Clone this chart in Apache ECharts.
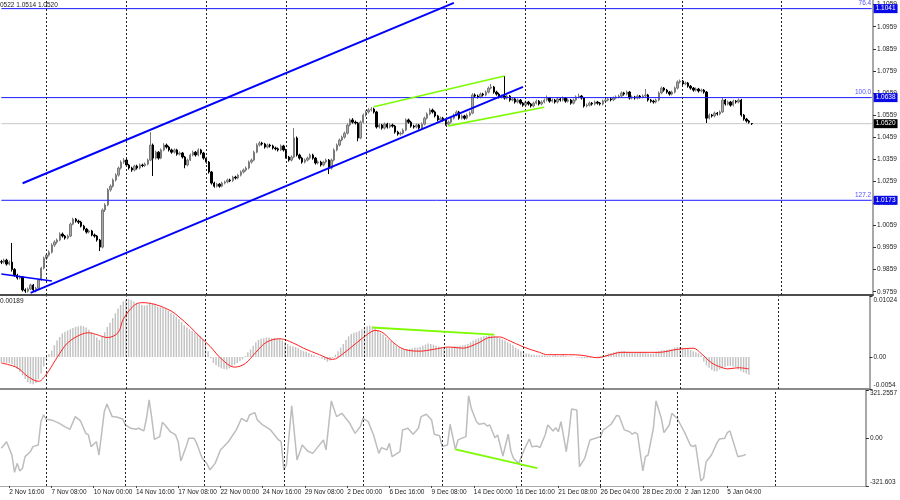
<!DOCTYPE html>
<html><head><meta charset="utf-8">
<script src="https://cdn.jsdelivr.net/npm/echarts@6/dist/echarts.min.js"></script>
<style>html,body{margin:0;padding:0;background:#fff}#c{width:900px;height:500px}</style>
</head><body><div id="c"></div>
<script>
// ---------- data ----------
const barCount = 328; // visible bar slots incl. empty future area
const tickLabels = ['2 Nov 16:00','7 Nov 08:00','10 Nov 00:00','14 Nov 16:00','17 Nov 08:00','22 Nov 00:00','24 Nov 16:00','29 Nov 08:00','2 Dec 00:00','6 Dec 16:00','9 Dec 08:00','14 Dec 00:00','16 Dec 16:00','21 Dec 08:00','26 Dec 04:00','28 Dec 20:00','2 Jan 12:00','5 Jan 04:00'];
const tickStart = 3, tickStep = 16;
const weekLines = [17,47,77,107,137,167,197,227,256,293];
const priceTicks = [0.9759,0.9859,0.9959,1.0059,1.0159,1.0259,1.0359,1.0459,1.0559,1.0659,1.0759,1.0859,1.0959,1.1059];
const macdTicks = [-0.0054,0,0.01024];
const cciTicks = [-321.603,0,321.2557];
// [open, close, low, high]
const candles = [
[0.9895,0.9893,0.9884,0.9903],[0.9893,0.9902,0.9886,0.9909],[0.9902,0.9884,0.9877,0.9908],[0.9884,0.9893,0.9878,0.9900],
[0.9893,0.9860,0.9850,0.9980],[0.9860,0.9834,0.9826,0.9866],[0.9834,0.9821,0.9814,0.9840],[0.9821,0.9826,0.9815,0.9833],
[0.9826,0.9767,0.9760,0.9830],[0.9767,0.9762,0.9754,0.9774],[0.9762,0.9771,0.9755,0.9778],[0.9771,0.9789,0.9766,0.9795],
[0.9789,0.9767,0.9760,0.9794],[0.9767,0.9775,0.9756,0.9781],[0.9775,0.9812,0.9770,0.9818],[0.9812,0.9866,0.9808,0.9872],
[0.9866,0.9911,0.9860,0.9918],[0.9911,0.9925,0.9902,0.9932],[0.9925,0.9938,0.9918,0.9946],[0.9938,0.9970,0.9932,0.9978],
[0.9970,0.9984,0.9962,0.9992],[0.9984,0.9993,0.9976,1.0000],[0.9993,1.0020,0.9988,1.0028],[1.0020,1.0011,1.0004,1.0027],
[1.0011,1.0002,0.9995,1.0016],[1.0002,1.0011,0.9996,1.0018],[1.0011,1.0065,1.0006,1.0072],[1.0065,1.0088,1.0060,1.0094],
[1.0088,1.0079,1.0072,1.0093],[1.0079,1.0074,1.0066,1.0085],[1.0074,1.0056,1.0050,1.0080],[1.0056,1.0043,1.0036,1.0062],
[1.0043,1.0029,1.0022,1.0048],[1.0029,1.0034,1.0023,1.0040],[1.0034,1.0016,1.0010,1.0039],[1.0016,1.0011,1.0004,1.0022],
[1.0011,0.9993,0.9986,1.0016],[0.9993,0.9961,0.9943,0.9998],[0.9961,1.0129,0.9955,1.0136],[1.0129,1.0152,1.0120,1.0160],
[1.0152,1.0220,1.0146,1.0228],[1.0220,1.0237,1.0212,1.0245],[1.0237,1.0265,1.0230,1.0272],[1.0265,1.0287,1.0258,1.0295],
[1.0287,1.0319,1.0280,1.0326],[1.0319,1.0346,1.0312,1.0354],[1.0346,1.0355,1.0338,1.0364],[1.0355,1.0333,1.0326,1.0360],
[1.0333,1.0319,1.0312,1.0338],[1.0319,1.0310,1.0302,1.0325],[1.0310,1.0328,1.0304,1.0334],[1.0328,1.0319,1.0312,1.0334],
[1.0319,1.0333,1.0313,1.0340],[1.0333,1.0330,1.0323,1.0339],[1.0330,1.0337,1.0324,1.0344],[1.0337,1.0355,1.0331,1.0362],
[1.0355,1.0423,1.0350,1.0482],[1.0423,1.0364,1.0283,1.0430],[1.0364,1.0391,1.0358,1.0398],[1.0391,1.0364,1.0357,1.0396],
[1.0364,1.0401,1.0359,1.0408],[1.0401,1.0423,1.0395,1.0432],[1.0423,1.0414,1.0407,1.0430],[1.0414,1.0401,1.0394,1.0420],
[1.0401,1.0391,1.0384,1.0407],[1.0391,1.0401,1.0385,1.0408],[1.0401,1.0382,1.0375,1.0406],[1.0382,1.0387,1.0376,1.0394],
[1.0387,1.0369,1.0362,1.0392],[1.0369,1.0333,1.0318,1.0374],[1.0333,1.0355,1.0327,1.0362],[1.0355,1.0378,1.0350,1.0385],
[1.0378,1.0391,1.0372,1.0398],[1.0391,1.0378,1.0371,1.0396],[1.0378,1.0401,1.0372,1.0408],[1.0401,1.0387,1.0380,1.0406],
[1.0387,1.0364,1.0357,1.0392],[1.0364,1.0346,1.0339,1.0370],[1.0346,1.0301,1.0294,1.0351],[1.0301,1.0251,1.0244,1.0306],
[1.0251,1.0237,1.0230,1.0257],[1.0237,1.0246,1.0231,1.0252],[1.0246,1.0237,1.0230,1.0251],[1.0237,1.0251,1.0232,1.0257],
[1.0251,1.0256,1.0245,1.0262],[1.0256,1.0265,1.0250,1.0271],[1.0265,1.0262,1.0255,1.0271],[1.0262,1.0278,1.0256,1.0284],
[1.0278,1.0274,1.0267,1.0284],[1.0274,1.0287,1.0268,1.0293],[1.0287,1.0301,1.0281,1.0308],[1.0301,1.0310,1.0295,1.0317],
[1.0310,1.0319,1.0303,1.0326],[1.0319,1.0346,1.0313,1.0353],[1.0346,1.0355,1.0339,1.0362],[1.0355,1.0391,1.0350,1.0398],
[1.0391,1.0423,1.0386,1.0431],[1.0423,1.0432,1.0416,1.0440],[1.0432,1.0428,1.0421,1.0438],[1.0428,1.0414,1.0407,1.0433],
[1.0414,1.0423,1.0408,1.0430],[1.0423,1.0419,1.0412,1.0429],[1.0419,1.0410,1.0403,1.0425],[1.0410,1.0406,1.0399,1.0416],
[1.0406,1.0401,1.0394,1.0412],[1.0401,1.0419,1.0396,1.0426],[1.0419,1.0401,1.0394,1.0424],[1.0401,1.0369,1.0362,1.0406],
[1.0369,1.0355,1.0348,1.0374],[1.0355,1.0369,1.0349,1.0376],[1.0369,1.0455,1.0364,1.0500],[1.0455,1.0378,1.0371,1.0462],
[1.0378,1.0364,1.0357,1.0384],[1.0364,1.0346,1.0339,1.0370],[1.0346,1.0355,1.0340,1.0362],[1.0355,1.0364,1.0349,1.0371],
[1.0364,1.0378,1.0358,1.0385],[1.0378,1.0364,1.0357,1.0384],[1.0364,1.0342,1.0335,1.0369],[1.0342,1.0346,1.0336,1.0353],
[1.0346,1.0333,1.0326,1.0352],[1.0333,1.0346,1.0327,1.0352],[1.0346,1.0355,1.0340,1.0362],[1.0355,1.0319,1.0292,1.0360],
[1.0319,1.0355,1.0312,1.0362],[1.0355,1.0401,1.0349,1.0408],[1.0401,1.0423,1.0395,1.0430],[1.0423,1.0446,1.0417,1.0453],
[1.0446,1.0459,1.0440,1.0466],[1.0459,1.0477,1.0452,1.0484],[1.0477,1.0514,1.0471,1.0521],[1.0514,1.0537,1.0508,1.0544],
[1.0537,1.0527,1.0520,1.0545],[1.0527,1.0523,1.0516,1.0534],[1.0523,1.0455,1.0440,1.0528],[1.0455,1.0527,1.0450,1.0534],
[1.0527,1.0559,1.0521,1.0566],[1.0559,1.0573,1.0552,1.0580],[1.0573,1.0582,1.0566,1.0590],[1.0582,1.0586,1.0575,1.0595],
[1.0586,1.0573,1.0566,1.0592],[1.0573,1.0505,1.0498,1.0578],[1.0505,1.0514,1.0498,1.0521],[1.0514,1.0500,1.0493,1.0519],
[1.0500,1.0518,1.0494,1.0525],[1.0518,1.0505,1.0498,1.0524],[1.0505,1.0514,1.0499,1.0521],[1.0514,1.0509,1.0502,1.0520],
[1.0509,1.0482,1.0475,1.0514],[1.0482,1.0473,1.0466,1.0488],[1.0473,1.0477,1.0466,1.0484],[1.0477,1.0491,1.0471,1.0498],
[1.0491,1.0537,1.0486,1.0544],[1.0537,1.0527,1.0520,1.0543],[1.0527,1.0509,1.0502,1.0533],[1.0509,1.0505,1.0498,1.0515],
[1.0505,1.0514,1.0499,1.0521],[1.0514,1.0500,1.0493,1.0519],[1.0500,1.0518,1.0494,1.0525],[1.0518,1.0545,1.0512,1.0552],
[1.0545,1.0564,1.0539,1.0571],[1.0564,1.0582,1.0558,1.0590],[1.0582,1.0573,1.0566,1.0588],[1.0573,1.0555,1.0548,1.0579],
[1.0555,1.0537,1.0530,1.0560],[1.0537,1.0545,1.0531,1.0552],[1.0545,1.0537,1.0530,1.0551],[1.0537,1.0518,1.0511,1.0542],
[1.0518,1.0527,1.0512,1.0534],[1.0527,1.0545,1.0521,1.0552],[1.0545,1.0559,1.0539,1.0566],[1.0559,1.0573,1.0553,1.0580],
[1.0573,1.0545,1.0538,1.0578],[1.0545,1.0555,1.0539,1.0562],[1.0555,1.0545,1.0538,1.0560],[1.0545,1.0559,1.0539,1.0566],
[1.0559,1.0568,1.0553,1.0575],[1.0568,1.0650,1.0563,1.0658],[1.0650,1.0645,1.0638,1.0657],[1.0645,1.0641,1.0634,1.0652],
[1.0641,1.0654,1.0635,1.0661],[1.0654,1.0650,1.0643,1.0660],[1.0650,1.0663,1.0644,1.0670],[1.0663,1.0681,1.0657,1.0688],
[1.0681,1.0686,1.0675,1.0700],[1.0686,1.0663,1.0656,1.0691],[1.0663,1.0654,1.0647,1.0669],[1.0654,1.0641,1.0634,1.0660],
[1.0641,1.0645,1.0635,1.0652],[1.0645,1.0636,1.0629,1.0736],[1.0636,1.0645,1.0630,1.0652],[1.0645,1.0627,1.0620,1.0650],
[1.0627,1.0632,1.0621,1.0639],[1.0632,1.0618,1.0611,1.0637],[1.0618,1.0627,1.0612,1.0634],[1.0627,1.0613,1.0606,1.0632],
[1.0613,1.0604,1.0597,1.0618],[1.0604,1.0618,1.0598,1.0625],[1.0618,1.0609,1.0602,1.0623],[1.0609,1.0600,1.0593,1.0614],
[1.0600,1.0613,1.0594,1.0620],[1.0613,1.0622,1.0607,1.0629],[1.0622,1.0609,1.0602,1.0627],[1.0609,1.0618,1.0603,1.0625],
[1.0618,1.0627,1.0612,1.0634],[1.0627,1.0636,1.0621,1.0648],[1.0636,1.0622,1.0615,1.0641],[1.0622,1.0627,1.0616,1.0634],
[1.0627,1.0618,1.0611,1.0632],[1.0618,1.0632,1.0612,1.0639],[1.0632,1.0627,1.0620,1.0637],[1.0627,1.0636,1.0621,1.0643],
[1.0636,1.0622,1.0615,1.0641],[1.0622,1.0627,1.0616,1.0634],[1.0627,1.0613,1.0606,1.0632],[1.0613,1.0627,1.0607,1.0634],
[1.0627,1.0641,1.0621,1.0648],[1.0641,1.0645,1.0635,1.0656],[1.0645,1.0636,1.0629,1.0650],[1.0636,1.0600,1.0593,1.0641],
[1.0600,1.0604,1.0594,1.0611],[1.0604,1.0613,1.0598,1.0620],[1.0613,1.0609,1.0602,1.0618],[1.0609,1.0618,1.0603,1.0625],
[1.0618,1.0613,1.0606,1.0623],[1.0613,1.0609,1.0602,1.0618],[1.0609,1.0622,1.0603,1.0629],[1.0622,1.0627,1.0616,1.0634],
[1.0627,1.0632,1.0621,1.0639],[1.0632,1.0628,1.0621,1.0638],[1.0628,1.0636,1.0622,1.0643],[1.0636,1.0641,1.0630,1.0648],
[1.0641,1.0645,1.0635,1.0652],[1.0645,1.0659,1.0639,1.0666],[1.0659,1.0654,1.0647,1.0664],[1.0654,1.0663,1.0648,1.0670],
[1.0663,1.0636,1.0629,1.0668],[1.0636,1.0641,1.0630,1.0648],[1.0641,1.0636,1.0629,1.0646],[1.0636,1.0645,1.0630,1.0652],
[1.0645,1.0641,1.0634,1.0650],[1.0641,1.0645,1.0635,1.0652],[1.0645,1.0650,1.0639,1.0677],[1.0650,1.0627,1.0620,1.0655],
[1.0627,1.0622,1.0615,1.0632],[1.0622,1.0618,1.0611,1.0628],[1.0618,1.0627,1.0612,1.0634],[1.0627,1.0659,1.0621,1.0666],
[1.0659,1.0681,1.0653,1.0688],[1.0681,1.0672,1.0665,1.0686],[1.0672,1.0663,1.0656,1.0677],[1.0663,1.0654,1.0647,1.0668],
[1.0654,1.0663,1.0648,1.0670],[1.0663,1.0681,1.0657,1.0688],[1.0681,1.0709,1.0675,1.0716],[1.0709,1.0713,1.0702,1.0720],
[1.0713,1.0700,1.0693,1.0718],[1.0700,1.0704,1.0694,1.0711],[1.0704,1.0690,1.0683,1.0709],[1.0690,1.0681,1.0674,1.0695],
[1.0681,1.0672,1.0665,1.0686],[1.0672,1.0677,1.0666,1.0684],[1.0677,1.0668,1.0661,1.0682],[1.0668,1.0672,1.0662,1.0679],
[1.0672,1.0663,1.0656,1.0677],[1.0663,1.0545,1.0523,1.0668],[1.0545,1.0559,1.0539,1.0566],[1.0559,1.0555,1.0548,1.0564],
[1.0555,1.0568,1.0549,1.0575],[1.0568,1.0564,1.0557,1.0573],[1.0564,1.0573,1.0558,1.0580],[1.0573,1.0627,1.0568,1.0636],
[1.0627,1.0609,1.0602,1.0632],[1.0609,1.0618,1.0603,1.0625],[1.0618,1.0604,1.0597,1.0623],[1.0604,1.0622,1.0598,1.0629],
[1.0622,1.0618,1.0611,1.0627],[1.0618,1.0627,1.0612,1.0634],[1.0627,1.0559,1.0552,1.0632],[1.0559,1.0541,1.0534,1.0564],
[1.0541,1.0532,1.0525,1.0546],[1.0532,1.0527,1.0520,1.0537],[1.0521,1.0520,1.0514,1.0522]
];
const macdHist = [
-0.0009,-0.0009,-0.0010,-0.0010,-0.0012,
-0.0016,-0.0020,-0.0025,-0.0031,-0.0037,-0.0042,
-0.0045,-0.0046,-0.0044,-0.0038,-0.0028,-0.0016,-0.0005,
0.0005,0.0011,0.0020,0.0028,0.0034,0.0040,0.0043,0.0045,0.0047,0.0049,0.0051,0.0052,0.0053,
0.0052,0.0050,0.0046,0.0042,0.0038,0.0033,0.0029,
0.0034,0.0042,0.0051,0.0058,0.0066,0.0074,0.0082,0.0088,0.0094,0.0097,0.0098,
0.0096,0.0094,0.0092,0.0090,0.0088,0.0087,0.0088,
0.0092,0.0090,0.0088,0.0085,0.0084,0.0083,0.0081,0.0078,0.0075,0.0072,0.0068,0.0064,
0.0059,0.0054,0.0050,0.0047,0.0044,0.0041,0.0038,0.0035,0.0030,0.0022,0.0010,-0.0002,
-0.0010,-0.0014,-0.0017,-0.0019,-0.0020,-0.0021,-0.0019,-0.0016,-0.0013,-0.0010,-0.0007,-0.0004,
0.0002,0.0008,0.0013,0.0019,0.0025,0.0029,0.0031,0.0032,0.0033,0.0033,0.0032,0.0032,0.0031,0.0031,
0.0028,0.0025,0.0022,0.0019,0.0018,0.0017,0.0015,0.0012,0.0010,0.0009,0.0007,0.0005,0.0003,0.0001,
-0.0001,-0.0003,-0.0005,-0.0008,-0.0006,-0.0002,
0.0004,0.0010,0.0016,0.0022,0.0029,0.0035,0.0039,0.0041,0.0042,0.0044,0.0047,0.0050,0.0052,0.0053,0.0052,
0.0049,0.0045,0.0041,0.0038,0.0034,0.0030,0.0027,0.0023,0.0019,0.0016,0.0014,0.0013,0.0013,
0.0014,0.0015,0.0016,0.0016,0.0017,0.0019,0.0021,0.0023,0.0022,0.0021,0.0019,0.0018,0.0017,0.0016,0.0016,
0.0016,0.0017,0.0018,0.0018,0.0019,0.0020,0.0021,0.0022,
0.0025,0.0028,0.0030,0.0032,0.0034,0.0035,0.0036,0.0037,0.0037,0.0036,0.0034,0.0032,0.0030,0.0028,
0.0025,0.0023,0.0020,0.0016,0.0013,0.0010,0.0008,0.0006,0.0005,0.0004,0.0004,0.0003,0.0003,0.0003,0.0003,
0.0002,0.0002,0.0002,0.0003,0.0002,0.0002,0.0003,0.0002,0.0001,0.0001,0.0000,-0.0001,-0.0001,
-0.0002,-0.0002,-0.0002,-0.0001,-0.0001,0.0000,0.0001,0.0002,0.0003,
0.0004,0.0006,0.0007,0.0008,0.0009,0.0010,0.0010,0.0010,0.0009,0.0008,0.0008,0.0007,0.0007,0.0008,0.0008,0.0007,0.0006,0.0006,0.0006,
0.0008,0.0010,0.0011,0.0012,0.0012,0.0013,0.0014,0.0016,0.0017,0.0017,0.0016,0.0015,0.0014,0.0012,0.0010,0.0008,0.0006,0.0003,
-0.0008,-0.0014,-0.0018,-0.0022,-0.0024,-0.0024,-0.0021,-0.0019,-0.0017,-0.0015,-0.0015,-0.0016,-0.0017,-0.0021,-0.0024,-0.0026,-0.0028,-0.0030
];
const macdSignal = [[0,-0.0010],[6,-0.0018],[10,-0.0033],[14,-0.0041],[17,-0.0029],[21,-0.0001],[25,0.0024],[30,0.0038],[33,0.0041],[36,0.0038],[40,0.0033],[44,0.0041],[46,0.0064],[50,0.0087],[53,0.0092],[58,0.0089],[64,0.0078],[67,0.0068],[71,0.0052],[75,0.0034],[79,0.0017],[83,-0.0003],[88,-0.0017],[92,-0.0011],[96,0.0008],[100,0.0025],[105,0.0031],[110,0.0024],[114,0.0015],[120,0.0004],[125,-0.0004],[129,0.0006],[134,0.0024],[138,0.0038],[141,0.0045],[144,0.0041],[148,0.0024],[152,0.0013],[158,0.0010],[163,0.0013],[169,0.0017],[174,0.0015],[180,0.0024],[184,0.0033],[188,0.0034],[191,0.0029],[197,0.0017],[203,0.0008],[206,0.0004],[214,0.0004],[219,0.0003],[225,-0.0001],[229,0.0003],[234,0.0008],[242,0.0008],[248,0.0008],[255,0.0013],[261,0.0015],[264,0.0006],[268,-0.0010],[272,-0.0018],[274,-0.0020],[278,-0.0018],[282,-0.0020]];
const cciLine = [[0,-69],[2,-25],[4,-114],[5,-230],[6,-170],[7,-221],[8,-203],[9,-125],[11,-92],[12,-58],[14,-47],[15,109],[16,154],[17,125],[19,121],[22,98],[24,76],[26,58],[28,143],[30,114],[32,31],[33,20],[34,-58],[36,-25],[37,-114],[39,176],[40,228],[42,143],[44,139],[46,127],[47,87],[49,65],[51,58],[52,65],[54,47],[55,132],[56,255],[57,132],[58,-9],[60,9],[61,105],[62,87],[64,42],[66,20],[67,-25],[68,-154],[70,-58],[71,-2],[73,-2],[74,-36],[76,-132],[77,-154],[78,-176],[79,-214],[81,-170],[83,-80],[86,-25],[89,54],[91,132],[93,109],[94,154],[96,170],[97,121],[99,87],[102,54],[105,-13],[106,-25],[107,-214],[108,-181],[110,216],[112,-147],[114,-47],[116,-87],[118,-103],[120,-58],[122,-13],[123,-80],[125,248],[127,143],[129,165],[132,98],[134,31],[136,76],[137,132],[139,109],[141,20],[143,-103],[144,-65],[146,-80],[147,-36],[148,-125],[151,-92],[152,54],[154,65],[156,25],[158,65],[159,143],[161,159],[163,121],[164,25],[166,15],[167,-58],[169,-47],[170,92],[172,-76],[173,-13],[175,2],[176,9],[177,283],[178,199],[180,109],[181,92],[183,98],[184,80],[185,87],[187,2],[188,20],[190,-121],[192,25],[193,-87],[194,-136],[196,-170],[198,-80],[200,-7],[201,-58],[203,-54],[204,-65],[206,20],[207,87],[209,47],[210,69],[211,42],[212,109],[214,-92],[215,31],[216,194],[218,188],[219,-192],[221,-136],[223,-13],[225,-2],[227,9],[228,54],[229,65],[231,92],[233,150],[234,147],[236,54],[238,42],[239,25],[240,38],[241,25],[243,-221],[244,-125],[245,-114],[247,65],[248,248],[250,132],[251,36],[253,87],[254,165],[256,132],[258,65],[259,31],[261,-47],[262,-58],[263,-47],[265,-288],[266,-270],[267,-159],[269,-114],[271,-36],[272,-7],[274,-2],[275,36],[276,47],[279,-125],[281,-118],[282,-109]];
// drawn objects (bar index, value)
const channelUpper = [[8,1.0250],[170,1.1067]];
const channelLower = [[11,0.9754],[196,1.0687]];
const shortLine = [[0,0.9839],[19,0.9808]];
const greenTop = [[140,1.0597],[189,1.0736]];
const greenBottom = [[168,1.0510],[204,1.0594]];
const greenMacd = [[140,0.0050],[186,0.0038]];
const greenCci = [[172,-76],[203,-202]];
const fibLevels = [{v:1.1041,name:'76.4'},{v:1.0638,name:'100.0'},{v:1.0173,name:'127.2'}];
const lastPrice = 1.0520;
const headerText = '0522 1.0514 1.0520';
const macdHeader = '0.00189';

// ---------- chart ----------
const categories = Array.from({length: barCount}, (_, i) => String(i));
const FONT = 'Liberation Sans';
const FS = 6.5;
const blue = '#1a1aff';
const green = '#7cfc00';
const vlines = weekLines.map(k => ({xAxis: k}));
const vlineStyle = {color:'#222', width:1, type:[2,2]};
const boxLabel = (bg) => ({show:true, color:'#fff', backgroundColor:bg, padding:[1,2,0,2], fontSize:FS, lineHeight:8,
  fontFamily:FONT, distance:2, formatter:(p)=> Number(p.value[1]).toFixed(4)});

function isTick(i) { return i>=tickStart && (i-tickStart)%tickStep===0 && (i-tickStart)/tickStep < tickLabels.length; }
function xAxisFor(gi, lineColor, lineWidth, showLabels) {
  return {
    type:'category', gridIndex:gi, data:categories, boundaryGap:true,
    axisLine:{show:true, onZero:false, lineStyle:{color:lineColor, width:lineWidth}},
    axisTick: showLabels ? {show:true, alignWithLabel:true, length:2, lineStyle:{color:'#444'}, interval:isTick} : {show:false},
    axisLabel: showLabels ? {show:true, align:'left', fontSize:FS, fontFamily:FONT, color:'#222', margin:3,
      interval:isTick, formatter:(v)=> tickLabels[(Number(v)-tickStart)/tickStep] || ''} : {show:false},
    splitLine:{show:false}
  };
}
function yAxisFor(gi, min, max, ticks, fmt) {
  return {
    type:'value', gridIndex:gi, position:'right', min:min, max:max,
    splitLine:{show:false},
    axisLine:{show:true, lineStyle:{color:'#a8a8a8', width:2}},
    axisTick:{show:true, length:3, lineStyle:{color:'#333'}, customValues:ticks},
    axisLabel:{show:true, customValues:ticks, formatter:fmt, fontSize:FS, fontFamily:FONT, color:'#222', margin:4,
      verticalAlignMinLabel: gi===0 ? 'middle' : 'bottom', verticalAlignMaxLabel: gi===0 ? 'middle' : 'top'}
  };
}
function seg(data, xi, color, width, z, extra) {
  return Object.assign({type:'line', xAxisIndex:xi, yAxisIndex:xi, data:data, symbol:'none', silent:true,
    itemStyle:{color:color}, lineStyle:{color:color, width:width}, z:z||5, animation:false}, extra||{});
}
const levelSeries = fibLevels.map(l => seg([[0,l.v],[barCount-1,l.v]], 0, blue, 1, 4, {
  clip:false,
  endLabel: boxLabel('#0a0ae6'),
  markPoint:{silent:true, animation:false, symbol:'circle', symbolSize:1, itemStyle:{color:'rgba(0,0,0,0)'},
    label:{show:true, position:[0,0], align:'right', verticalAlign:'bottom', offset:[0,-1], formatter:'{c}',
      color:'#5050ff', fontSize:FS, fontFamily:FONT},
    data:[{coord:[barCount-1, l.v], value:l.name}]}
}));
levelSeries.push(seg([[0,lastPrice],[barCount-1,lastPrice]], 0, '#c8c8c8', 1, 2, {clip:false, endLabel: boxLabel('#000')}));

const chart = echarts.init(document.getElementById('c'), null, {renderer:'canvas'});
chart.setOption({
  animation:false,
  backgroundColor:'#ffffff',
  textStyle:{fontFamily:FONT},
  grid:[
    {left:-1, right:27, top:0, height:295},
    {left:-1, right:27, top:296.5, height:92.5},
    {left:-1, right:27, top:390, height:96}
  ],
  xAxis:[ xAxisFor(0,'#4d4d4d',2,false), xAxisFor(1,'#8a8a8a',2,false), xAxisFor(2,'#a8a8a8',1,true) ],
  yAxis:[
    yAxisFor(0, 0.97441, 1.10801, priceTicks, v=>v.toFixed(4)),
    yAxisFor(1, -0.0054, 0.01024, macdTicks, v=> v===0 ? '0.00' : String(v)),
    yAxisFor(2, -321.603, 321.2557, cciTicks, v=> v===0 ? '0.00' : String(v))
  ],
  graphic:[
    {type:'text', left:0, top:2, style:{text:headerText, fontSize:FS, fontFamily:FONT, fill:'#222'}},
    {type:'text', left:0, top:298, style:{text:macdHeader, fontSize:FS, fontFamily:FONT, fill:'#222'}}
  ],
  series:[
    {type:'candlestick', xAxisIndex:0, yAxisIndex:0, data:candles, barWidth:'70%', silent:true, z:3,
      itemStyle:{color:'#a9a9a9', color0:'#000000', borderColor:'#7a7a7a', borderColor0:'#000000', borderWidth:1},
      markLine:{silent:true, symbol:['none','none'], animation:false, label:{show:false}, lineStyle:vlineStyle, data:vlines}},
    seg(channelUpper,0,'#0000ff',2,6),
    seg(channelLower,0,'#0000ff',2,6),
    seg(shortLine,0,'#0000ff',1.5,6),
    seg(greenTop,0,green,1.6,6),
    seg(greenBottom,0,green,1.6,6)
  ].concat(levelSeries).concat([
    {type:'bar', xAxisIndex:1, yAxisIndex:1, data:macdHist, barWidth:'55%', silent:true,
      itemStyle:{color:'#c2c2c2'},
      markLine:{silent:true, symbol:['none','none'], animation:false, label:{show:false}, lineStyle:vlineStyle, data:vlines}},
    {type:'line', xAxisIndex:1, yAxisIndex:1, data:macdSignal, symbol:'none', smooth:0.35, silent:true,
      lineStyle:{color:'#ff2020', width:1}, z:4},
    seg(greenMacd,1,green,1.8,6),
    {type:'line', xAxisIndex:2, yAxisIndex:2, data:cciLine, symbol:'none', silent:true,
      lineStyle:{color:'#bdbdbd', width:1.5}, z:3,
      markLine:{silent:true, symbol:['none','none'], animation:false, label:{show:false}, lineStyle:vlineStyle, data:vlines}},
    seg(greenCci,2,green,1.8,6)
  ])
});
</script></body></html>
